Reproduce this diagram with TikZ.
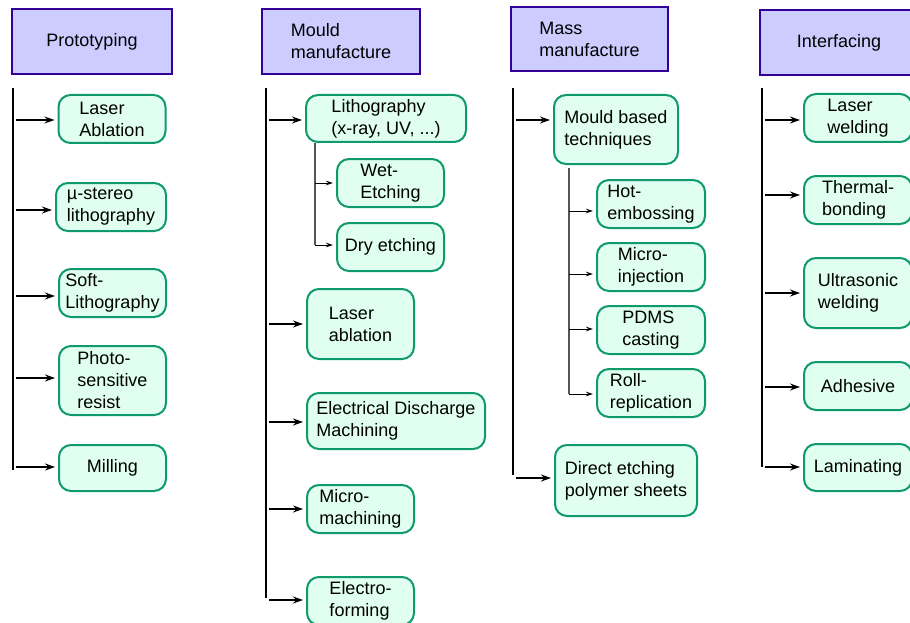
\documentclass[tikz,border=0pt]{standalone}
\usepackage{fontspec}
\setmainfont{Liberation Sans}
\usetikzlibrary{arrows.meta,positioning}
\definecolor{HeadFill}{HTML}{CCCCFF}
\definecolor{HeadDraw}{HTML}{330099}
\definecolor{ItemFill}{HTML}{E0FFF0}
\definecolor{ItemDraw}{HTML}{0E9A6C}
\definecolor{SubLine}{HTML}{555555}

\begin{document}
\begin{tikzpicture}[
  x=1pt,
  y=-1pt,
  >=Stealth,
  head/.style={rectangle,draw=HeadDraw,fill=HeadFill,line width=2pt,
    minimum width=158pt,minimum height=65pt,inner sep=2pt,align=left,
    font=\fontsize{18}{22}\selectfont},
  item/.style={rectangle,rounded corners=12pt,draw=ItemDraw,fill=ItemFill,
    line width=2pt,minimum width=107pt,minimum height=48pt,inner sep=2pt,
    align=left,font=\fontsize{18}{22}\selectfont},
  trunk/.style={draw=black,line width=1.2pt},
  branch/.style={draw=SubLine,line width=1.6pt},
  edge/.style={-{Stealth[length=10pt,width=7pt]},draw=black,line width=1.2pt,
    shorten >=3pt},
  sub edge/.style={-{Stealth[length=7pt,width=4.5pt]},draw=black,line width=1pt,
    shorten >=3pt}
]
  \useasboundingbox (0,0) rectangle (910,623);

  % headers
  \node[head,minimum width=160pt] (hproto) at (92,41.5) {Prototyping};
  \node[head] (hmould) at (341,41.5) {Mould\\manufacture};
  \node[head,minimum width=157pt,minimum height=64pt] (hmass) at (589.5,39) {Mass\\manufacture};
  \node[head] (hinter) at (839,42.5) {Interfacing};

  % prototyping
  \node[item] (la) at (112,119) {Laser\\Ablation};
  \node[item,minimum width=110pt] (ms) at (111,207) {\textmu-stereo\\lithography};
  \node[item] (sl) at (112.5,293) {Soft-\\Lithography};
  \node[item,minimum height=69pt] (ps) at (112.5,380.5) {Photo-\\sensitive\\resist};
  \node[item,minimum height=46pt] (mi) at (112.5,468) {Milling};

  % mould manufacture
  \node[item,minimum width=160pt,minimum height=47pt] (li) at (386,118.5) {Lithography\\(x-ray, UV, ...)};
  \node[item] (we) at (390.5,183) {Wet-\\Etching};
  \node[item] (de) at (390.5,247) {Dry etching};
  \node[item,minimum height=70pt] (lab) at (360.5,324) {Laser\\ablation};
  \node[item,minimum width=178pt,minimum height=56pt] (edm) at (396,421) {Electrical Discharge\\Machining};
  \node[item] (mm) at (360.5,509) {Micro-\\machining};
  \node[item] (ef) at (360.5,601) {Electro-\\forming};

  % mass manufacture
  \node[item,minimum width=124pt,minimum height=69pt] (mb) at (616,129.5) {Mould based\\techniques};
  \node[item,minimum width=108pt] (he) at (651,204) {Hot-\\embossing};
  \node[item,minimum width=108pt] (mij) at (651,267) {Micro-\\injection};
  \node[item,minimum width=108pt] (pc) at (651,330) {PDMS\\casting};
  \node[item,minimum width=108pt] (rr) at (651,393) {Roll-\\replication};
  \node[item,minimum width=142pt,minimum height=71pt] (dep) at (626,480.5) {Direct etching\\polymer sheets};

  % interfacing
  \node[item,minimum width=108pt] (lw) at (858,118) {Laser\\welding};
  \node[item,minimum width=108pt] (tb) at (858,200) {Thermal-\\bonding};
  \node[item,minimum width=108pt,minimum height=70pt] (uw) at (858,293) {Ultrasonic\\welding};
  \node[item,minimum width=108pt] (ad) at (858,386) {Adhesive};
  \node[item,minimum width=108pt,minimum height=47pt] (lm) at (858,467.5) {Laminating};

  % trunks
  \coordinate (t1) at (13,88);  \coordinate (b1) at (13,470);
  \coordinate (t2) at (266,88); \coordinate (b2) at (266,598);
  \coordinate (t3) at (513,88); \coordinate (b3) at (513,475);
  \coordinate (t4) at (762,88); \coordinate (b4) at (762,467);
  \draw[trunk] (t1) -- (b1);
  \draw[trunk] (t2) -- (b2);
  \draw[trunk] (t3) -- (b3);
  \draw[trunk] (t4) -- (b4);
  \draw[branch] (li.south west) ++(10,0) coordinate (s2) -- (s2 |- 0,245) coordinate (e2);
  \draw[branch] (mb.south west) ++(16,3) coordinate (s3) -- (s3 |- 0,394) coordinate (e3);

  % arrows
  \foreach \y/\n in {120/la,210/ms,296/sl,378/ps,467/mi}
    \draw[edge] (16,\y) coordinate (a) -- (a -| \n.west);
  \foreach \y/\n in {120/li,324/lab,422/edm,509/mm,600/ef}
    \draw[edge] (269,\y) coordinate (a) -- (a -| \n.west);
  \foreach \y/\n in {120/mb,478/dep}
    \draw[edge] (516,\y) coordinate (a) -- (a -| \n.west);
  \foreach \y/\n in {120/lw,195/tb,293/uw,387/ad,467/lm}
    \draw[edge] (765,\y) coordinate (a) -- (a -| \n.west);
  \foreach \y/\n in {183/we,245/de}
    \draw[sub edge] (s2 |- 0,\y) coordinate (a) -- (a -| \n.west);
  \foreach \y/\n in {211/he,274/mij,329/pc,394/rr}
    \draw[sub edge] (s3 |- 0,\y) coordinate (a) -- (a -| \n.west);
\end{tikzpicture}
\end{document}
